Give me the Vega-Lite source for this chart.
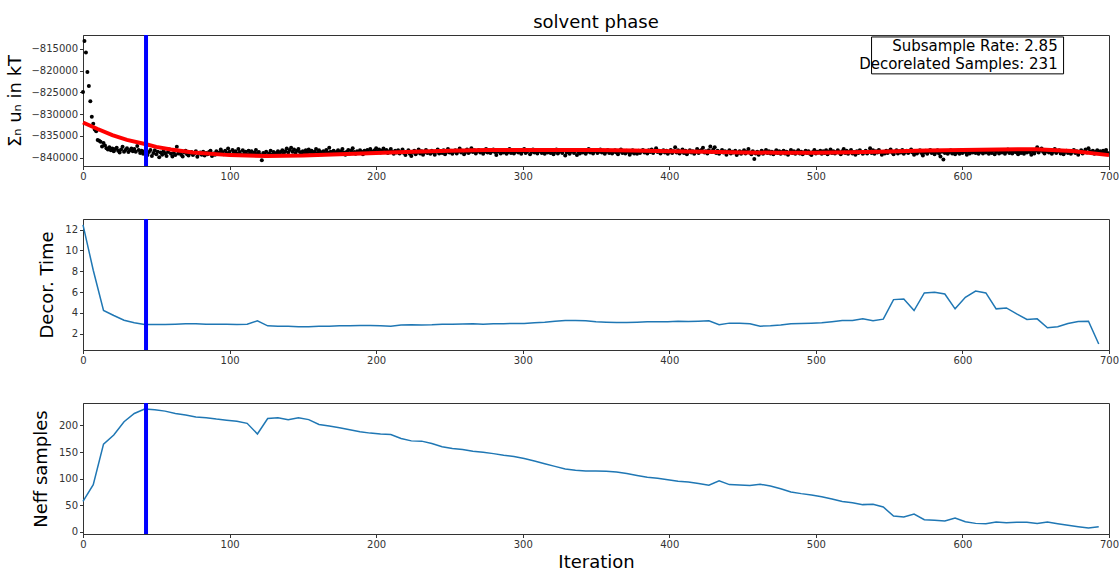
{
"$schema": "https://vega.github.io/schema/vega-lite/v6.json",
"padding": {"left": 6, "top": 13, "right": 0, "bottom": 3},
"background": "white",
"spacing": 53,
"bounds": "flush",
"config": {
 "font": "DejaVu Sans",
 "view": {"stroke": "#333", "strokeWidth": 1},
 "axis": {"grid": false, "labelOverlap": false, "labelFont": "DejaVu Sans", "labelFontSize": 10, "labelColor": "#333", "tickColor": "#333", "domainColor": "#333", "tickSize": 3.5, "labelPadding": 2, "titleFont": "DejaVu Sans", "titleFontSize": 18, "titleFontWeight": "normal", "titleColor": "#000"}
},
"datasets": {
 "energy": [
{"it":0,"u":-824900},{"it":1,"u":-813200},{"it":2,"u":-815800},{"it":3,"u":-820300},{"it":4,"u":-823500},{"it":5,"u":-827000},{"it":6,"u":-830600},{"it":7,"u":-832200},{"it":8,"u":-833500},{"it":9,"u":-833900},{"it":10,"u":-835900},{"it":11,"u":-836100},{"it":12,"u":-836300},{"it":13,"u":-837400},
{"it":14,"u":-836600},{"it":15,"u":-837200},{"it":16,"u":-837800},{"it":17,"u":-838100},{"it":18,"u":-837600},{"it":19,"u":-838300},{"it":20,"u":-837900},{"it":21,"u":-838500},{"it":22,"u":-838000},{"it":23,"u":-837700},{"it":24,"u":-838400},{"it":25,"u":-838800},{"it":26,"u":-838100},{"it":27,"u":-837500},{"it":28,"u":-838600},{"it":29,"u":-838200},{"it":30,"u":-837800},{"it":31,"u":-838700},{"it":32,"u":-838300},{"it":33,"u":-837900},
{"it":34,"u":-838500},{"it":35,"u":-838000},{"it":36,"u":-838600},{"it":37,"u":-837300},{"it":38,"u":-838200},{"it":39,"u":-838900},{"it":40,"u":-838400},{"it":41,"u":-839100},{"it":42,"u":-838500},{"it":43,"u":-838000},{"it":44,"u":-839400},{"it":45,"u":-838700},{"it":46,"u":-838200},{"it":47,"u":-839600},{"it":48,"u":-838900},{"it":49,"u":-838300},{"it":50,"u":-839200},{"it":51,"u":-838600},{"it":52,"u":-839900},{"it":53,"u":-838800},
{"it":54,"u":-839300},{"it":55,"u":-838500},{"it":56,"u":-839000},{"it":57,"u":-839600},{"it":58,"u":-838700},{"it":59,"u":-838100},{"it":60,"u":-839100},{"it":61,"u":-839700},{"it":62,"u":-838900},{"it":63,"u":-839400},{"it":64,"u":-837500},{"it":65,"u":-839000},{"it":66,"u":-838600},{"it":67,"u":-839300},{"it":68,"u":-839700},{"it":69,"u":-838800},{"it":70,"u":-838400},{"it":71,"u":-839200},{"it":72,"u":-839500},{"it":73,"u":-838900},
{"it":74,"u":-838700},{"it":75,"u":-839400},{"it":76,"u":-839000},{"it":77,"u":-838500},{"it":78,"u":-839800},{"it":79,"u":-839100},{"it":80,"u":-838800},{"it":81,"u":-839300},{"it":82,"u":-838600},{"it":83,"u":-839500},{"it":84,"u":-838900},{"it":85,"u":-839200},{"it":86,"u":-838700},{"it":87,"u":-838400},{"it":88,"u":-839600},{"it":89,"u":-839000},{"it":90,"u":-839300},{"it":91,"u":-838500},{"it":92,"u":-839100},{"it":93,"u":-838800},
{"it":94,"u":-838100},{"it":95,"u":-838700},{"it":96,"u":-839200},{"it":97,"u":-838400},{"it":98,"u":-838900},{"it":99,"u":-837900},{"it":100,"u":-838600},{"it":101,"u":-839300},{"it":102,"u":-838200},{"it":103,"u":-838800},{"it":104,"u":-838500},{"it":105,"u":-839100},{"it":106,"u":-838000},{"it":107,"u":-838700},{"it":108,"u":-839400},{"it":109,"u":-838300},{"it":110,"u":-838900},{"it":111,"u":-838600},{"it":112,"u":-839200},{"it":113,"u":-838400},
{"it":114,"u":-839000},{"it":115,"u":-838500},{"it":116,"u":-839300},{"it":117,"u":-838800},{"it":118,"u":-838200},{"it":119,"u":-839100},{"it":120,"u":-838700},{"it":121,"u":-839400},{"it":122,"u":-840600},{"it":123,"u":-838900},{"it":124,"u":-839200},{"it":125,"u":-838600},{"it":126,"u":-839500},{"it":127,"u":-839000},{"it":128,"u":-838400},{"it":129,"u":-839300},{"it":130,"u":-838700},{"it":131,"u":-839100},{"it":132,"u":-838900},{"it":133,"u":-838500},
{"it":134,"u":-839200},{"it":135,"u":-838700},{"it":136,"u":-838300},{"it":137,"u":-839000},{"it":138,"u":-838500},{"it":139,"u":-837900},{"it":140,"u":-838800},{"it":141,"u":-838200},{"it":142,"u":-837700},{"it":143,"u":-838600},{"it":144,"u":-838100},{"it":145,"u":-838900},{"it":146,"u":-838400},{"it":147,"u":-838000},{"it":148,"u":-838700},{"it":149,"u":-839200},{"it":150,"u":-838500},{"it":151,"u":-839000},{"it":152,"u":-838300},{"it":153,"u":-838800},
{"it":154,"u":-838100},{"it":155,"u":-838700},{"it":156,"u":-838400},{"it":157,"u":-839100},{"it":158,"u":-838600},{"it":159,"u":-838000},{"it":160,"u":-838900},{"it":161,"u":-838300},{"it":162,"u":-838700},{"it":163,"u":-839200},{"it":164,"u":-838500},{"it":165,"u":-838900},{"it":166,"u":-838200},{"it":167,"u":-838800},{"it":168,"u":-837700},{"it":169,"u":-838600},{"it":170,"u":-839000},{"it":171,"u":-838400},{"it":172,"u":-839100},{"it":173,"u":-838700},
{"it":174,"u":-838300},{"it":175,"u":-838900},{"it":176,"u":-838500},{"it":177,"u":-838000},{"it":178,"u":-838800},{"it":179,"u":-839300},{"it":180,"u":-838600},{"it":181,"u":-838200},{"it":182,"u":-839000},{"it":183,"u":-838400},{"it":184,"u":-837800},{"it":185,"u":-838700},{"it":186,"u":-839100},{"it":187,"u":-838500},{"it":188,"u":-838900},{"it":189,"u":-838300},{"it":190,"u":-838600},{"it":191,"u":-839200},{"it":192,"u":-838400},{"it":193,"u":-838800},
{"it":194,"u":-838200},{"it":195,"u":-838700},{"it":196,"u":-838000},{"it":197,"u":-838500},{"it":198,"u":-838900},{"it":199,"u":-838300},{"it":200,"u":-837800},{"it":201,"u":-838600},{"it":202,"u":-838100},{"it":203,"u":-838800},{"it":204,"u":-838400},{"it":205,"u":-837900},{"it":206,"u":-838700},{"it":207,"u":-838200},{"it":208,"u":-838900},{"it":209,"u":-838500},{"it":210,"u":-838000},{"it":211,"u":-838600},{"it":212,"u":-839100},{"it":213,"u":-838400},
{"it":214,"u":-838800},{"it":215,"u":-838300},{"it":216,"u":-839000},{"it":217,"u":-838600},{"it":218,"u":-838100},{"it":219,"u":-838900},{"it":220,"u":-839400},{"it":221,"u":-838700},{"it":222,"u":-838300},{"it":223,"u":-839100},{"it":224,"u":-839600},{"it":225,"u":-838800},{"it":226,"u":-838400},{"it":227,"u":-839200},{"it":228,"u":-838700},{"it":229,"u":-838100},{"it":230,"u":-839000},{"it":231,"u":-838500},{"it":232,"u":-839300},{"it":233,"u":-838800},
{"it":234,"u":-838200},{"it":235,"u":-838900},{"it":236,"u":-838600},{"it":237,"u":-839100},{"it":238,"u":-838400},{"it":239,"u":-838800},{"it":240,"u":-839300},{"it":241,"u":-838600},{"it":242,"u":-838100},{"it":243,"u":-839000},{"it":244,"u":-838500},{"it":245,"u":-838900},{"it":246,"u":-838300},{"it":247,"u":-839200},{"it":248,"u":-838700},{"it":249,"u":-838000},{"it":250,"u":-838800},{"it":251,"u":-838400},{"it":252,"u":-839100},{"it":253,"u":-838600},
{"it":254,"u":-838300},{"it":255,"u":-839000},{"it":256,"u":-838500},{"it":257,"u":-837900},{"it":258,"u":-838800},{"it":259,"u":-838400},{"it":260,"u":-839200},{"it":261,"u":-838700},{"it":262,"u":-838100},{"it":263,"u":-838900},{"it":264,"u":-838600},{"it":265,"u":-837800},{"it":266,"u":-838700},{"it":267,"u":-838300},{"it":268,"u":-839000},{"it":269,"u":-838500},{"it":270,"u":-838200},{"it":271,"u":-838800},{"it":272,"u":-838400},{"it":273,"u":-839100},
{"it":274,"u":-838600},{"it":275,"u":-838000},{"it":276,"u":-838800},{"it":277,"u":-838300},{"it":278,"u":-838900},{"it":279,"u":-838500},{"it":280,"u":-838100},{"it":281,"u":-838700},{"it":282,"u":-839400},{"it":283,"u":-838600},{"it":284,"u":-838200},{"it":285,"u":-839000},{"it":286,"u":-838500},{"it":287,"u":-838800},{"it":288,"u":-838300},{"it":289,"u":-839100},{"it":290,"u":-838700},{"it":291,"u":-838000},{"it":292,"u":-838900},{"it":293,"u":-838400},
{"it":294,"u":-839000},{"it":295,"u":-838600},{"it":296,"u":-838200},{"it":297,"u":-838800},{"it":298,"u":-838400},{"it":299,"u":-839100},{"it":300,"u":-838500},{"it":301,"u":-838000},{"it":302,"u":-838900},{"it":303,"u":-838600},{"it":304,"u":-838300},{"it":305,"u":-839200},{"it":306,"u":-838700},{"it":307,"u":-838100},{"it":308,"u":-838800},{"it":309,"u":-838400},{"it":310,"u":-839000},{"it":311,"u":-838500},{"it":312,"u":-838200},{"it":313,"u":-838900},
{"it":314,"u":-838600},{"it":315,"u":-839100},{"it":316,"u":-838400},{"it":317,"u":-838800},{"it":318,"u":-838300},{"it":319,"u":-838900},{"it":320,"u":-838500},{"it":321,"u":-839200},{"it":322,"u":-838700},{"it":323,"u":-838100},{"it":324,"u":-839000},{"it":325,"u":-838600},{"it":326,"u":-838400},{"it":327,"u":-838900},{"it":328,"u":-838300},{"it":329,"u":-839500},{"it":330,"u":-838800},{"it":331,"u":-838500},{"it":332,"u":-839100},{"it":333,"u":-838600},
{"it":334,"u":-838200},{"it":335,"u":-838900},{"it":336,"u":-838400},{"it":337,"u":-839400},{"it":338,"u":-838700},{"it":339,"u":-839000},{"it":340,"u":-838500},{"it":341,"u":-838800},{"it":342,"u":-838300},{"it":343,"u":-839100},{"it":344,"u":-838600},{"it":345,"u":-838000},{"it":346,"u":-838800},{"it":347,"u":-838400},{"it":348,"u":-839000},{"it":349,"u":-838500},{"it":350,"u":-838200},{"it":351,"u":-838900},{"it":352,"u":-838600},{"it":353,"u":-838100},
{"it":354,"u":-838800},{"it":355,"u":-838400},{"it":356,"u":-839100},{"it":357,"u":-838600},{"it":358,"u":-838200},{"it":359,"u":-838900},{"it":360,"u":-838500},{"it":361,"u":-839000},{"it":362,"u":-838700},{"it":363,"u":-838300},{"it":364,"u":-838800},{"it":365,"u":-839200},{"it":366,"u":-838600},{"it":367,"u":-838100},{"it":368,"u":-838900},{"it":369,"u":-838500},{"it":370,"u":-839000},{"it":371,"u":-838400},{"it":372,"u":-838700},{"it":373,"u":-839300},
{"it":374,"u":-838800},{"it":375,"u":-838300},{"it":376,"u":-839000},{"it":377,"u":-838600},{"it":378,"u":-839100},{"it":379,"u":-838400},{"it":380,"u":-838900},{"it":381,"u":-838500},{"it":382,"u":-838200},{"it":383,"u":-838800},{"it":384,"u":-838600},{"it":385,"u":-839000},{"it":386,"u":-838300},{"it":387,"u":-838700},{"it":388,"u":-838100},{"it":389,"u":-838900},{"it":390,"u":-838500},{"it":391,"u":-837800},{"it":392,"u":-838700},{"it":393,"u":-838400},
{"it":394,"u":-839000},{"it":395,"u":-838600},{"it":396,"u":-838300},{"it":397,"u":-838800},{"it":398,"u":-838400},{"it":399,"u":-839100},{"it":400,"u":-838700},{"it":401,"u":-838200},{"it":402,"u":-838900},{"it":403,"u":-838500},{"it":404,"u":-837600},{"it":405,"u":-838800},{"it":406,"u":-838300},{"it":407,"u":-839000},{"it":408,"u":-838600},{"it":409,"u":-838100},{"it":410,"u":-838900},{"it":411,"u":-838400},{"it":412,"u":-839200},{"it":413,"u":-838700},
{"it":414,"u":-838300},{"it":415,"u":-838800},{"it":416,"u":-838500},{"it":417,"u":-839100},{"it":418,"u":-838600},{"it":419,"u":-838000},{"it":420,"u":-838900},{"it":421,"u":-838400},{"it":422,"u":-838200},{"it":423,"u":-837700},{"it":424,"u":-838800},{"it":425,"u":-838500},{"it":426,"u":-839000},{"it":427,"u":-838300},{"it":428,"u":-837400},{"it":429,"u":-838700},{"it":430,"u":-838100},{"it":431,"u":-837600},{"it":432,"u":-838900},{"it":433,"u":-838400},
{"it":434,"u":-839100},{"it":435,"u":-838600},{"it":436,"u":-838200},{"it":437,"u":-838800},{"it":438,"u":-838500},{"it":439,"u":-839300},{"it":440,"u":-838700},{"it":441,"u":-838300},{"it":442,"u":-839000},{"it":443,"u":-838600},{"it":444,"u":-838800},{"it":445,"u":-838400},{"it":446,"u":-839400},{"it":447,"u":-838900},{"it":448,"u":-838500},{"it":449,"u":-839100},{"it":450,"u":-838700},{"it":451,"u":-838300},{"it":452,"u":-839000},{"it":453,"u":-838600},
{"it":454,"u":-838000},{"it":455,"u":-838800},{"it":456,"u":-839200},{"it":457,"u":-838500},{"it":458,"u":-840300},{"it":459,"u":-839000},{"it":460,"u":-838600},{"it":461,"u":-839300},{"it":462,"u":-838800},{"it":463,"u":-838400},{"it":464,"u":-839100},{"it":465,"u":-838700},{"it":466,"u":-838200},{"it":467,"u":-838900},{"it":468,"u":-838500},{"it":469,"u":-839000},{"it":470,"u":-838600},{"it":471,"u":-839200},{"it":472,"u":-838800},{"it":473,"u":-838300},
{"it":474,"u":-838900},{"it":475,"u":-838500},{"it":476,"u":-839100},{"it":477,"u":-838700},{"it":478,"u":-838400},{"it":479,"u":-839000},{"it":480,"u":-838600},{"it":481,"u":-839300},{"it":482,"u":-838800},{"it":483,"u":-838200},{"it":484,"u":-838900},{"it":485,"u":-838500},{"it":486,"u":-839100},{"it":487,"u":-838700},{"it":488,"u":-838300},{"it":489,"u":-839000},{"it":490,"u":-838600},{"it":491,"u":-839200},{"it":492,"u":-838800},{"it":493,"u":-838400},
{"it":494,"u":-838900},{"it":495,"u":-838500},{"it":496,"u":-839100},{"it":497,"u":-839400},{"it":498,"u":-838700},{"it":499,"u":-838200},{"it":500,"u":-839000},{"it":501,"u":-838600},{"it":502,"u":-838800},{"it":503,"u":-838400},{"it":504,"u":-839100},{"it":505,"u":-838500},{"it":506,"u":-838900},{"it":507,"u":-838300},{"it":508,"u":-839200},{"it":509,"u":-838600},{"it":510,"u":-838100},{"it":511,"u":-838900},{"it":512,"u":-838500},{"it":513,"u":-839000},
{"it":514,"u":-838700},{"it":515,"u":-838300},{"it":516,"u":-838800},{"it":517,"u":-839200},{"it":518,"u":-838500},{"it":519,"u":-838000},{"it":520,"u":-838900},{"it":521,"u":-838400},{"it":522,"u":-839100},{"it":523,"u":-838600},{"it":524,"u":-838200},{"it":525,"u":-839000},{"it":526,"u":-838700},{"it":527,"u":-839300},{"it":528,"u":-838500},{"it":529,"u":-838900},{"it":530,"u":-838300},{"it":531,"u":-838600},{"it":532,"u":-839100},{"it":533,"u":-838800},
{"it":534,"u":-838400},{"it":535,"u":-839000},{"it":536,"u":-838600},{"it":537,"u":-837800},{"it":538,"u":-838900},{"it":539,"u":-838300},{"it":540,"u":-839100},{"it":541,"u":-838500},{"it":542,"u":-838800},{"it":543,"u":-838200},{"it":544,"u":-838700},{"it":545,"u":-839300},{"it":546,"u":-838600},{"it":547,"u":-839000},{"it":548,"u":-838400},{"it":549,"u":-838900},{"it":550,"u":-838500},{"it":551,"u":-838100},{"it":552,"u":-838800},{"it":553,"u":-839200},
{"it":554,"u":-838600},{"it":555,"u":-838300},{"it":556,"u":-839000},{"it":557,"u":-838500},{"it":558,"u":-838800},{"it":559,"u":-838200},{"it":560,"u":-839100},{"it":561,"u":-838700},{"it":562,"u":-838400},{"it":563,"u":-838900},{"it":564,"u":-838600},{"it":565,"u":-838100},{"it":566,"u":-838800},{"it":567,"u":-839300},{"it":568,"u":-838500},{"it":569,"u":-839000},{"it":570,"u":-838600},{"it":571,"u":-838300},{"it":572,"u":-838900},{"it":573,"u":-839500},
{"it":574,"u":-838800},{"it":575,"u":-838400},{"it":576,"u":-839100},{"it":577,"u":-838600},{"it":578,"u":-838200},{"it":579,"u":-838900},{"it":580,"u":-838500},{"it":581,"u":-839200},{"it":582,"u":-838700},{"it":583,"u":-838300},{"it":584,"u":-839000},{"it":585,"u":-839700},{"it":586,"u":-838600},{"it":587,"u":-840400},{"it":588,"u":-838900},{"it":589,"u":-838500},{"it":590,"u":-839100},{"it":591,"u":-838700},{"it":592,"u":-838300},{"it":593,"u":-839000},
{"it":594,"u":-838600},{"it":595,"u":-839200},{"it":596,"u":-838800},{"it":597,"u":-838400},{"it":598,"u":-839100},{"it":599,"u":-838600},{"it":600,"u":-838900},{"it":601,"u":-838300},{"it":602,"u":-838700},{"it":603,"u":-839300},{"it":604,"u":-838500},{"it":605,"u":-839000},{"it":606,"u":-838400},{"it":607,"u":-838800},{"it":608,"u":-838200},{"it":609,"u":-838900},{"it":610,"u":-838600},{"it":611,"u":-839100},{"it":612,"u":-838700},{"it":613,"u":-838400},
{"it":614,"u":-839000},{"it":615,"u":-838500},{"it":616,"u":-838800},{"it":617,"u":-838300},{"it":618,"u":-839100},{"it":619,"u":-838600},{"it":620,"u":-838900},{"it":621,"u":-838400},{"it":622,"u":-839200},{"it":623,"u":-838700},{"it":624,"u":-838200},{"it":625,"u":-839000},{"it":626,"u":-838500},{"it":627,"u":-838800},{"it":628,"u":-838400},{"it":629,"u":-839100},{"it":630,"u":-838600},{"it":631,"u":-838100},{"it":632,"u":-838900},{"it":633,"u":-838500},
{"it":634,"u":-839000},{"it":635,"u":-838700},{"it":636,"u":-838300},{"it":637,"u":-838800},{"it":638,"u":-839200},{"it":639,"u":-838600},{"it":640,"u":-838900},{"it":641,"u":-838400},{"it":642,"u":-839100},{"it":643,"u":-838500},{"it":644,"u":-838800},{"it":645,"u":-838200},{"it":646,"u":-838700},{"it":647,"u":-839300},{"it":648,"u":-838500},{"it":649,"u":-839000},{"it":650,"u":-838400},{"it":651,"u":-837600},{"it":652,"u":-838800},{"it":653,"u":-838300},
{"it":654,"u":-837900},{"it":655,"u":-838600},{"it":656,"u":-839000},{"it":657,"u":-838500},{"it":658,"u":-838200},{"it":659,"u":-838800},{"it":660,"u":-838400},{"it":661,"u":-839100},{"it":662,"u":-838600},{"it":663,"u":-838000},{"it":664,"u":-838900},{"it":665,"u":-838500},{"it":666,"u":-838300},{"it":667,"u":-839000},{"it":668,"u":-838600},{"it":669,"u":-839200},{"it":670,"u":-838700},{"it":671,"u":-838400},{"it":672,"u":-838900},{"it":673,"u":-838500},
{"it":674,"u":-839100},{"it":675,"u":-838600},{"it":676,"u":-838200},{"it":677,"u":-838900},{"it":678,"u":-838500},{"it":679,"u":-839300},{"it":680,"u":-838700},{"it":681,"u":-838300},{"it":682,"u":-839000},{"it":683,"u":-838600},{"it":684,"u":-838100},{"it":685,"u":-838800},{"it":686,"u":-837800},{"it":687,"u":-838500},{"it":688,"u":-838900},{"it":689,"u":-838400},{"it":690,"u":-839100},{"it":691,"u":-838600},{"it":692,"u":-838300},{"it":693,"u":-838800},
{"it":694,"u":-838500},{"it":695,"u":-839000},{"it":696,"u":-838400},{"it":697,"u":-838700},{"it":698,"u":-838200},{"it":699,"u":-838900}
 ],
 "fit": [
{"it":0,"u":-831900},{"it":10,"u":-833400},{"it":20,"u":-834800},{"it":30,"u":-835900},{"it":43,"u":-836900},{"it":50,"u":-837500},{"it":60,"u":-838100},{"it":75,"u":-838800},{"it":100,"u":-839400},{"it":125,"u":-839600},{"it":150,"u":-839500},{"it":175,"u":-839200},{"it":200,"u":-838900},{"it":225,"u":-838600},{"it":250,"u":-838400},{"it":275,"u":-838250},{"it":300,"u":-838200},{"it":325,"u":-838200},{"it":350,"u":-838250},{"it":375,"u":-838350},{"it":400,"u":-838500},{"it":425,"u":-838650},{"it":450,"u":-838800},{"it":475,"u":-838850},{"it":500,"u":-838850},{"it":525,"u":-838750},{"it":550,"u":-838550},{"it":575,"u":-838350},{"it":600,"u":-838200},{"it":625,"u":-838100},{"it":650,"u":-838050},{"it":675,"u":-838450},{"it":700,"u":-839400}
 ],
 "tau": [
{"it":0,"decor":12.45,"neff":57},{"it":7,"decor":8.1,"neff":88.7},{"it":14,"decor":4.23,"neff":165},{"it":21,"decor":3.75,"neff":182},{"it":28,"decor":3.3,"neff":207},{"it":35,"decor":3.05,"neff":222.6},{"it":42,"decor":2.9,"neff":231},{"it":49,"decor":2.9,"neff":229.6},{"it":56,"decor":2.9,"neff":227},{"it":63,"decor":2.92,"neff":222.6},{"it":70,"decor":2.95,"neff":219.5},{"it":77,"decor":2.95,"neff":216},{"it":84,"decor":2.92,"neff":214.5},{"it":91,"decor":2.92,"neff":212},{"it":98,"decor":2.92,"neff":210},{"it":105,"decor":2.9,"neff":208},{"it":112,"decor":2.92,"neff":204},{"it":119,"decor":3.24,"neff":184},{"it":126,"decor":2.76,"neff":213},{"it":133,"decor":2.73,"neff":214.5},{"it":140,"decor":2.73,"neff":211},{"it":147,"decor":2.67,"neff":214.5},{"it":154,"decor":2.67,"neff":211},{"it":161,"decor":2.73,"neff":202},{"it":168,"decor":2.73,"neff":199},{"it":175,"decor":2.76,"neff":195.6},{"it":182,"decor":2.76,"neff":192},{"it":189,"decor":2.8,"neff":188},{"it":196,"decor":2.8,"neff":185.6},
{"it":203,"decor":2.76,"neff":184},{"it":210,"decor":2.73,"neff":183},{"it":217,"decor":2.83,"neff":175.5},{"it":224,"decor":2.86,"neff":171},{"it":231,"decor":2.83,"neff":170.5},{"it":238,"decor":2.86,"neff":166},{"it":245,"decor":2.92,"neff":160},{"it":252,"decor":2.92,"neff":156.6},{"it":259,"decor":2.94,"neff":154.7},{"it":266,"decor":2.95,"neff":151.6},{"it":273,"decor":2.92,"neff":149.7},{"it":280,"decor":2.95,"neff":147},{"it":287,"decor":2.97,"neff":144},{"it":294,"decor":2.99,"neff":141.5},{"it":301,"decor":2.99,"neff":137.8},{"it":308,"decor":3.05,"neff":133},{"it":315,"decor":3.11,"neff":128},{"it":322,"decor":3.21,"neff":123},{"it":329,"decor":3.27,"neff":118},{"it":336,"decor":3.27,"neff":115.7},{"it":343,"decor":3.24,"neff":114.5},{"it":350,"decor":3.15,"neff":114.5},{"it":357,"decor":3.11,"neff":113.8},{"it":364,"decor":3.08,"neff":112.6},{"it":371,"decor":3.08,"neff":109.4},{"it":378,"decor":3.11,"neff":106},{"it":385,"decor":3.15,"neff":102.5},{"it":392,"decor":3.15,"neff":100.6},{"it":399,"decor":3.15,"neff":98},{"it":406,"decor":3.21,"neff":95},{"it":413,"decor":3.18,"neff":93.7},{"it":420,"decor":3.21,"neff":90.6},{"it":427,"decor":3.24,"neff":87.4},{"it":434,"decor":2.86,"neff":96},{"it":441,"decor":3.02,"neff":88.7},
{"it":448,"decor":3.02,"neff":88},{"it":455,"decor":2.95,"neff":86.8},{"it":462,"decor":2.73,"neff":89.3},{"it":469,"decor":2.76,"neff":86},{"it":476,"decor":2.83,"neff":81},{"it":483,"decor":2.95,"neff":74.9},{"it":490,"decor":2.99,"neff":71.7},{"it":497,"decor":3.02,"neff":69},{"it":504,"decor":3.05,"neff":66},{"it":511,"decor":3.15,"neff":61.6},{"it":518,"decor":3.27,"neff":57},{"it":525,"decor":3.27,"neff":54.7},{"it":532,"decor":3.43,"neff":51},{"it":539,"decor":3.24,"neff":51.6},{"it":546,"decor":3.4,"neff":46.5},{"it":553,"decor":5.28,"neff":29.6},{"it":560,"decor":5.34,"neff":27.7},{"it":567,"decor":4.23,"neff":33.3},{"it":574,"decor":5.92,"neff":22.6},{"it":581,"decor":5.98,"neff":21.4},{"it":588,"decor":5.82,"neff":20},{"it":595,"decor":4.39,"neff":25.8},{"it":602,"decor":5.5,"neff":18.9},{"it":609,"decor":6.1,"neff":15.7},{"it":616,"decor":5.92,"neff":15},{"it":623,"decor":4.39,"neff":18.2},{"it":630,"decor":4.48,"neff":17},{"it":637,"decor":3.91,"neff":17.6},{"it":644,"decor":3.37,"neff":17.6},{"it":651,"decor":3.43,"neff":15.7},{"it":658,"decor":2.57,"neff":18.2},{"it":665,"decor":2.67,"neff":15},{"it":672,"decor":2.99,"neff":12},{"it":679,"decor":3.18,"neff":9.4},{"it":686,"decor":3.21,"neff":6.9},{"it":693,"decor":1.01,"neff":9.4}
 ]
},
"vconcat": [
 {
  "width": 1026, "height": 131,
  "title": {"text": "solvent phase", "fontSize": 18, "fontWeight": "normal", "font": "DejaVu Sans", "color": "#000", "offset": 1},
  "layer": [
   {"data": {"name": "energy"}, "mark": {"type": "circle", "color": "black", "size": 16, "opacity": 1},
    "encoding": {
     "x": {"field": "it", "type": "quantitative", "scale": {"domain": [0, 700], "nice": false}, "axis": {"values": [0,100,200,300,400,500,600,700], "title": null, "labelFlush": false}},
     "y": {"field": "u", "type": "quantitative", "scale": {"domain": [-841900, -811800], "nice": false, "zero": false}, "axis": {"values": [-840000,-835000,-830000,-825000,-820000,-815000], "format": "d", "title": "Σₙ uₙ in kT", "titlePadding": 6}}
    }},
   {"data": {"name": "fit"}, "mark": {"type": "line", "color": "red", "strokeWidth": 4},
    "encoding": {
     "x": {"field": "it", "type": "quantitative", "axis": {"values": [0,100,200,300,400,500,600,700], "title": null, "labelFlush": false}},
     "y": {"field": "u", "type": "quantitative", "axis": {"values": [-840000,-835000,-830000,-825000,-820000,-815000], "format": "d", "title": "Σₙ uₙ in kT", "titlePadding": 6}}
    }},
   {"data": {"values": [{}]}, "mark": {"type": "rule", "color": "blue", "strokeWidth": 4},
    "encoding": {"x": {"datum": 43, "type": "quantitative", "axis": {"values": [0,100,200,300,400,500,600,700], "title": null, "labelFlush": false}}}},
   {"data": {"values": [{}]}, "mark": {"type": "rect", "fill": "white", "stroke": "black", "strokeWidth": 1},
    "encoding": {
     "x": {"datum": 538, "type": "quantitative", "axis": {"values": [0,100,200,300,400,500,600,700], "title": null, "labelFlush": false}},
     "x2": {"datum": 669},
     "y": {"datum": -812250, "type": "quantitative", "axis": {"values": [-840000,-835000,-830000,-825000,-820000,-815000], "format": "d", "title": "Σₙ uₙ in kT", "titlePadding": 6}},
     "y2": {"datum": -820730}}},
   {"data": {"values": [{}]}, "mark": {"type": "text", "align": "right", "baseline": "middle", "fontSize": 15, "font": "DejaVu Sans", "color": "black"},
    "encoding": {
     "x": {"datum": 665, "type": "quantitative", "axis": {"values": [0,100,200,300,400,500,600,700], "title": null, "labelFlush": false}},
     "y": {"datum": -814310, "type": "quantitative", "axis": {"values": [-840000,-835000,-830000,-825000,-820000,-815000], "format": "d", "title": "Σₙ uₙ in kT", "titlePadding": 6}},
     "text": {"value": "Subsample Rate: 2.85"}}},
   {"data": {"values": [{}]}, "mark": {"type": "text", "align": "right", "baseline": "middle", "fontSize": 15, "font": "DejaVu Sans", "color": "black"},
    "encoding": {
     "x": {"datum": 665, "type": "quantitative", "axis": {"values": [0,100,200,300,400,500,600,700], "title": null, "labelFlush": false}},
     "y": {"datum": -818440, "type": "quantitative", "axis": {"values": [-840000,-835000,-830000,-825000,-820000,-815000], "format": "d", "title": "Σₙ uₙ in kT", "titlePadding": 6}},
     "text": {"value": "Decorelated Samples: 231"}}}
  ]
 },
 {
  "width": 1026, "height": 131,
  "layer": [
   {"data": {"name": "tau"}, "mark": {"type": "line", "color": "#1f77b4", "strokeWidth": 1.5},
    "encoding": {
     "x": {"field": "it", "type": "quantitative", "scale": {"domain": [0, 700], "nice": false}, "axis": {"values": [0,100,200,300,400,500,600,700], "title": null, "labelFlush": false}},
     "y": {"field": "decor", "type": "quantitative", "scale": {"domain": [0.44, 13.02], "nice": false, "zero": false}, "axis": {"values": [2,4,6,8,10,12], "title": "Decor. Time", "titlePadding": 8}}
    }},
   {"data": {"values": [{}]}, "mark": {"type": "rule", "color": "blue", "strokeWidth": 4},
    "encoding": {"x": {"datum": 43, "type": "quantitative", "axis": {"values": [0,100,200,300,400,500,600,700], "title": null, "labelFlush": false}}}}
  ]
 },
 {
  "width": 1026, "height": 131,
  "layer": [
   {"data": {"name": "tau"}, "mark": {"type": "line", "color": "#1f77b4", "strokeWidth": 1.5},
    "encoding": {
     "x": {"field": "it", "type": "quantitative", "scale": {"domain": [0, 700], "nice": false}, "axis": {"values": [0,100,200,300,400,500,600,700], "title": "Iteration", "labelFlush": false, "titlePadding": 4}},
     "y": {"field": "neff", "type": "quantitative", "scale": {"domain": [-4.3, 242.3], "nice": false, "zero": false}, "axis": {"values": [0,50,100,150,200], "title": "Neff samples", "titlePadding": 8}}
    }},
   {"data": {"values": [{}]}, "mark": {"type": "rule", "color": "blue", "strokeWidth": 4},
    "encoding": {"x": {"datum": 43, "type": "quantitative", "axis": {"values": [0,100,200,300,400,500,600,700], "title": "Iteration", "labelFlush": false, "titlePadding": 4}}}}
  ]
 }
]
}
